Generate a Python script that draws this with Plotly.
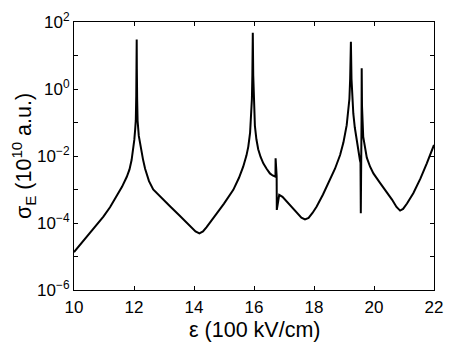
import plotly.graph_objects as go

# points (field in 100 kV/cm, log10 of sigma_E)
field = [10.0, 10.25, 10.53, 10.75, 10.98, 11.2, 11.42, 11.6, 11.76, 11.85, 11.92,
         11.97, 12.01, 12.04, 12.06, 12.075, 12.085, 12.09, 12.095, 12.105, 12.12,
         12.16, 12.22, 12.3, 12.37, 12.5, 12.64, 12.8, 13.0, 13.2, 13.5, 13.75, 13.9,
         14.05, 14.18, 14.3, 14.42, 14.6, 14.76, 15.0, 15.31, 15.5, 15.64, 15.75,
         15.81, 15.87, 15.9, 15.93, 15.945, 15.96, 15.975, 15.99, 16.03, 16.08, 16.14,
         16.22, 16.31, 16.42, 16.53, 16.62, 16.69, 16.715, 16.72, 16.755, 16.76,
         16.84, 16.95, 17.09, 17.25, 17.42, 17.58, 17.7, 17.82, 17.95, 18.09, 18.3,
         18.53, 18.7, 18.87, 18.98, 19.09, 19.15, 19.18, 19.205, 19.23, 19.25, 19.28,
         19.31, 19.36, 19.42, 19.48, 19.53, 19.55, 19.56, 19.585, 19.59, 19.6, 19.64,
         19.7, 19.76, 19.87, 19.98, 20.2, 20.42, 20.6, 20.75, 20.87, 20.97, 21.1,
         21.31, 21.55, 21.76, 21.9, 22.0]
log_sigma = [-4.87, -4.6, -4.31, -4.07, -3.81, -3.53, -3.21, -2.92, -2.62, -2.4, -2.12,
             -1.85, -1.52, -1.2, -0.93, -0.2, 0.6, 1.48, 0.6, -0.3, -0.95,
             -1.4, -1.75, -2.1, -2.38, -2.75, -3.0, -3.15, -3.33, -3.5, -3.76, -3.97, -4.1,
             -4.25, -4.31, -4.25, -4.12, -3.92, -3.71, -3.42, -3.01, -2.65, -2.32, -1.98,
             -1.72, -1.3, -0.93, -0.3, 0.4, 1.68, 0.4, -0.3, -1.1, -1.5, -1.8,
             -2.03, -2.22, -2.38, -2.52, -2.58, -2.62, -2.62, -2.07, -2.6, -3.61,
             -3.16, -3.22, -3.36, -3.53, -3.71, -3.84, -3.89, -3.85, -3.7, -3.51, -3.15,
             -2.72, -2.38, -1.97, -1.6, -1.08, -0.6, -0.3, 0.3, 1.41, 0.3, -0.35,
             -0.73, -1.15, -1.55, -1.9, -2.12, -2.2, -3.71, -0.9, 0.62, -0.5, -1.42,
             -1.8, -2.05, -2.32, -2.52, -2.8, -3.07, -3.3, -3.52, -3.63, -3.58, -3.42,
             -3.11, -2.67, -2.22, -1.9, -1.67]
sigma = [10 ** v for v in log_sigma]

y_ticks = [1e-6, 1e-4, 1e-2, 1e0, 1e2]
y_labels = ['10<sup>−6</sup>', '10<sup>−4</sup>', '10<sup>−2</sup>', '10<sup>0</sup>',
            '10<sup>2</sup>']
y_minor = [1e-5, 1e-3, 1e-1, 1e1]
x_ticks = [10, 12, 14, 16, 18, 20, 22]

fig = go.Figure()
fig.add_trace(go.Scatter(x=field, y=sigma, mode='lines',
                         line=dict(color='black', width=2), showlegend=False))

fig.update_layout(
    width=450, height=344,
    margin=dict(l=74, r=16, t=22, b=54),
    plot_bgcolor='white', paper_bgcolor='white',
    font=dict(family='Liberation Sans, Arial, sans-serif', size=17, color='black'),
    xaxis=dict(range=[10, 22], tickvals=x_ticks, ticks='inside', ticklen=4,
               tickcolor='black', showline=True, linecolor='black', linewidth=1,
               mirror='ticks', showgrid=False, zeroline=False, automargin=False,
               ticklabelstandoff=2),
    yaxis=dict(type='log', range=[-6, 2], tickvals=y_ticks, ticktext=y_labels,
               ticks='inside', ticklen=4, tickcolor='black', showline=True,
               linecolor='black', linewidth=1, mirror='ticks', showgrid=False,
               zeroline=False, automargin=False,
               minor=dict(tickvals=y_minor, ticks='inside', ticklen=4,
                          tickcolor='black')),
)

fig.add_annotation(text='ε (100 kV/cm)', xref='paper', yref='paper', x=0.5, y=0,
                   xanchor='center', yanchor='top', yshift=-26,
                   showarrow=False, font=dict(size=21.5))
fig.add_annotation(text='σ<sub>E</sub> (10<sup>10</sup> a.u.)', xref='paper',
                   yref='paper', x=0, y=0.5, xanchor='center', yanchor='middle',
                   xshift=-51, textangle=-90, showarrow=False, font=dict(size=21.5))

fig.write_html('out.html', config={'displayModeBar': False},
               post_script="document.body.style.margin='0';")
